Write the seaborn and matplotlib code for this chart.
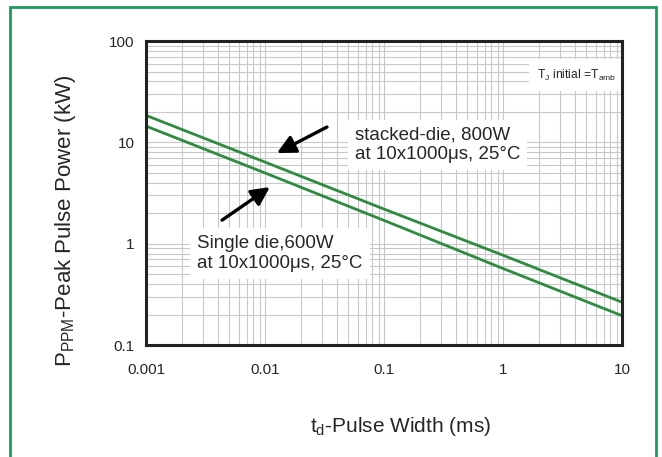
import matplotlib
matplotlib.use('Agg')
import matplotlib.pyplot as plt
from matplotlib.patches import Rectangle
import seaborn as sns
import pandas as pd

# pulse width (ms) and peak pulse power (kW)
pulse_width = [0.001, 0.01, 0.1, 1, 10]
stacked_die = [18.5, 6.4, 2.2, 0.77, 0.265]
single_die = [14.5, 5.0, 1.7, 0.57, 0.195]

x_ticks = [0.001, 0.01, 0.1, 1, 10]
x_tick_labels = ['0.001', '0.01', '0.1', '1', '10']
y_ticks = [0.1, 1, 10, 100]
y_tick_labels = ['0.1', '1', '10', '100']

GREEN = '#2e8b3f'
FRAME = '#1a9a5c'

df = pd.DataFrame({
    'width': pulse_width * 2,
    'power': stacked_die + single_die,
    'series': ['stacked'] * len(pulse_width) + ['single'] * len(pulse_width),
})

sns.set_style('white')
plt.rcParams['font.family'] = ['Liberation Sans', 'DejaVu Sans']

fig = plt.figure(figsize=(6.62, 4.57), dpi=100)
ax = fig.add_axes([0.2205, 0.245, 0.719, 0.665])

sns.lineplot(data=df, x='width', y='power', hue='series',
             palette=[GREEN, GREEN], linewidth=2, legend=False, ax=ax, zorder=3)

ax.set_xscale('log')
ax.set_yscale('log')
ax.set_xlim(0.001, 10)
ax.set_ylim(0.1, 100)
ax.set_xticks(x_ticks)
ax.set_xticklabels(x_tick_labels, fontsize=11)
ax.set_yticks(y_ticks)
ax.set_yticklabels(y_tick_labels, fontsize=11)
ax.minorticks_on()
ax.tick_params(which='minor', length=0)
ax.tick_params(which='major', length=4, width=1, color='#555555', direction='out')
ax.tick_params(axis='x', which='major', pad=9)
ax.tick_params(axis='y', which='major', pad=4)
ax.grid(True, which='both', color='#c8c8c8', linewidth=0.8, zorder=0)
for s in ax.spines.values():
    s.set_linewidth(2.2)
    s.set_color('#222222')
    s.set_zorder(6)

ax.set_xlabel(r'$\mathregular{t_d}$-Pulse Width (ms)', fontsize=15)
ax.xaxis.set_label_coords(0.534, -0.23)
ax.set_ylabel(r'$\mathregular{P_{PPM}}$-Peak Pulse Power (kW)', fontsize=16)
ax.yaxis.set_label_coords(-0.143, 0.41)

box = dict(facecolor='white', edgecolor='none', pad=5)
ax.text(0.057, 9.4, 'stacked-die, 800W\nat 10x1000\u03bcs, 25\u00b0C',
        fontsize=13.5, linespacing=1.2, va='center', ha='left', bbox=box, zorder=4)
ax.text(0.0027, 0.80, 'Single die,600W\nat 10x1000\u03bcs, 25\u00b0C',
        fontsize=13.5, linespacing=1.2, va='center', ha='left', bbox=box, zorder=4)
ax.text(4.19, 46, r'T$_\mathregular{J}$ initial =T$_\mathregular{amb}$',
        fontsize=8.7, va='center', ha='center',
        bbox=dict(facecolor='white', edgecolor='none', pad=6), zorder=4)

arrow = dict(arrowstyle='-|>,head_length=1.1,head_width=0.55', color='black',
             lw=2.4, shrinkA=0, shrinkB=0)
ax.annotate('', xy=(0.0126, 7.85), xytext=(0.0332, 14.2), arrowprops=arrow, zorder=5)
ax.annotate('', xy=(0.0110, 3.62), xytext=(0.00436, 1.71), arrowprops=arrow, zorder=5)

fig.patches.append(Rectangle((10 / 662, -0.01), 646 / 662, 1 - 7 / 457 + 0.01,
                             transform=fig.transFigure, fill=False,
                             edgecolor=FRAME, linewidth=2))

fig.savefig('out.png', dpi=100)
